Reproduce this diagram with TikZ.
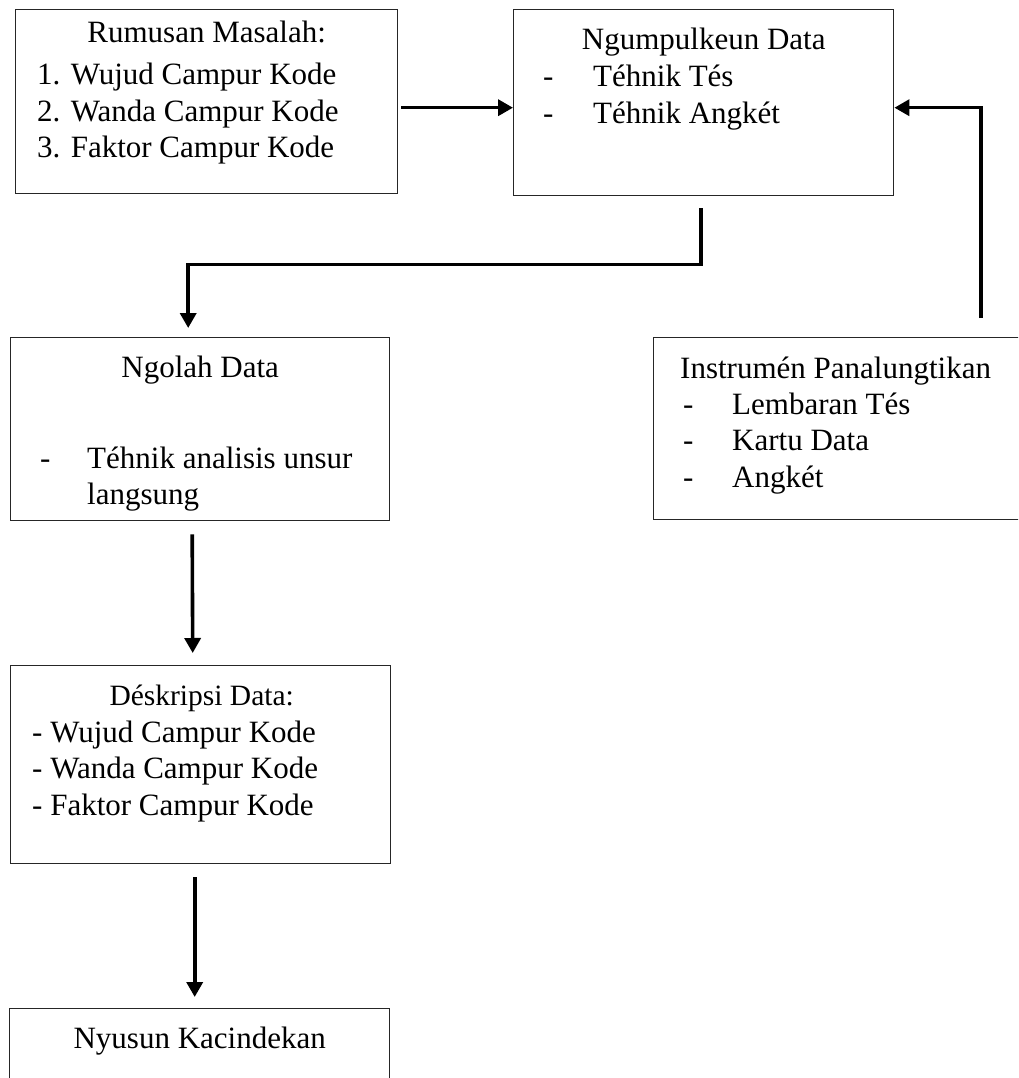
\documentclass[tikz,border=0pt]{standalone}
\usepackage{fontspec}
\setmainfont{Liberation Serif}
\usetikzlibrary{arrows.meta,positioning}
\begin{document}
\begin{tikzpicture}[x=1pt,y=-1pt,
		box/.style={draw=black!85,line width=1.4pt,rectangle,anchor=north west,inner sep=0pt},
		flow/.style={line width=3.6pt,-{Triangle[length=15pt,width=16pt]}},
		ttl/.style={inner sep=0pt,anchor=base,font=\fontsize{31}{36.5}\selectfont},
		lst/.style={inner sep=0pt,anchor=base west,font=\fontsize{31}{36.5}\selectfont}]
\clip (0,0) rectangle (1018,1078);
% boxes
\node[box,minimum width=382pt,minimum height=184pt] (rumusan) at (15,9) {};
\node[box,minimum width=380pt,minimum height=186pt] (ngumpul) at (513,9) {};
\node[box,minimum width=379pt,minimum height=183pt] (ngolah) at (10,337) {};
\node[box,minimum width=420pt,minimum height=182pt] (instrumen) at (653,337) {};
\node[box,minimum width=380pt,minimum height=198pt] (deskripsi) at (10,665) {};
\node[box,minimum width=380pt,minimum height=100pt] (nyusun) at (9,1008) {};
% texts
\node[ttl] (rumusantitle) at ([shift={(0,34)}]rumusan.north) {Rumusan Masalah:};
\node[lst] (rumusanlist) at ([shift={(22,76)}]rumusan.north west)
	{\begin{tabular}[t]{@{}l@{}}1. Wujud Campur Kode\\2. Wanda Campur Kode\\3. Faktor Campur Kode\end{tabular}};
\node[ttl] (ngumpultitle) at ([shift={(0,41)}]ngumpul.north) {Ngumpulkeun Data};
\node[lst] (ngumpullist) at ([shift={(30,78)}]ngumpul.north west)
	{\begin{tabular}[t]{@{}p{50pt}@{}l@{}}-&Téhnik Tés\\-&Téhnik Angkét\end{tabular}};
\node[ttl] (ngolahtitle) at ([shift={(0,40)}]ngolah.north) {Ngolah Data};
\node[lst] (ngolahlist) at ([shift={(30,131)}]ngolah.north west)
	{\begin{tabular}[t]{@{}p{47pt}@{}l@{}}-&Téhnik analisis unsur\\&langsung\end{tabular}};
\node[lst] (instrumentitle) at ([shift={(27,41)}]instrumen.north west) {Instrumén Panalungtikan};
\node[lst] (instrumenlist) at ([shift={(30,77)}]instrumen.north west)
	{\begin{tabular}[t]{@{}p{49pt}@{}l@{}}-&Lembaran Tés\\-&Kartu Data\\-&Angkét\end{tabular}};
\node[ttl,font=\fontsize{29.5}{36.5}\selectfont] (deskripsititle) at ([shift={(1,40)}]deskripsi.north) {Déskripsi Data:};
\node[lst] (deskripsilist) at ([shift={(22,77)}]deskripsi.north west)
	{\begin{tabular}[t]{@{}l@{}}- Wujud Campur Kode\\- Wanda Campur Kode\\- Faktor Campur Kode\end{tabular}};
\node[ttl] (nyusuntitle) at ([shift={(0,40)}]nyusun.north) {Nyusun Kacindekan};
% connectors
\draw[flow] ([shift={(3,6)}]rumusan.east) -- ([shift={(0,5)}]ngumpul.west);
\draw[flow] ([shift={(-3,12)}]ngumpul.south) -- ++(0,56) -| ([shift={(-12,-9)}]ngolah.north);
\draw[flow] ([shift={(328,-19)}]instrumen.north west) |- ([shift={(0,5)}]ngumpul.east);
\draw[flow] ([shift={(-8,13)}]ngolah.south) -- ([shift={(-8,-12)}]deskripsi.north);
\draw[flow] ([shift={(-6,13)}]deskripsi.south) -- ([shift={(-5,-11)}]nyusun.north);
\end{tikzpicture}
\end{document}
